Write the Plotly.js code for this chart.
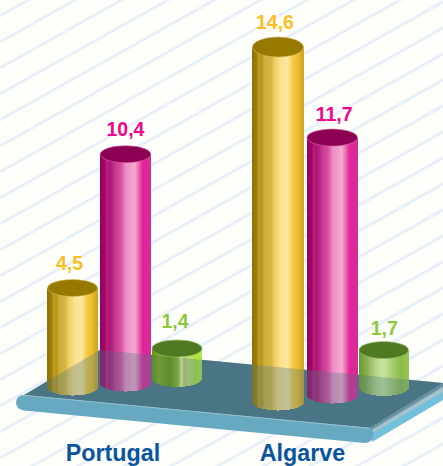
<!DOCTYPE html>
<html><head><meta charset="utf-8">
<script src="https://cdn.plot.ly/plotly-3.0.1.min.js"></script>
<style>html,body{margin:0;padding:0;background:#fefefa;overflow:hidden}#c{width:443px;height:466px}</style>
</head><body><div id="c"></div>
<script>
// ---- data ----
const categories = ['Portugal', 'Algarve'];
const portugal = [4.5, 10.4, 1.4];
const algarve = [14.6, 11.7, 1.7];
const valueLabels = ['4,5', '10,4', '1,4', '14,6', '11,7', '1,7'];

// ---- drawing configuration ----
const W = 443, H = 466, ZERO = 400, UNIT = 22;
const values = portugal.concat(algarve);
const centers = [72.5, 125.5, 177, 278, 332.2, 383.7];
const widths = [50, 50.5, 50, 51, 50.5, 49.5];
const floorPx = [387, 383, 378.5, 402, 395, 387.5];
const stretch = [1, 1, 0.975, 1.105, 1, 1];
const capRy = [8.5, 8.5, 8.5, 10, 8.5, 8.5];
const labelDx = [-3, 0, -2, -3, 2, 0.5];
const labelLift = [16, 16, 18, 16, 14.5, 13];
const RY = 8.5;
const tickCenters = [113, 302.5];
const gold = [[0,'#8e7004'],[.1,'#9f7f0a'],[.12,'#c09c22'],[.2,'#b8961c'],[.24,'#cfae38'],[.36,'#d6b542'],[.44,'#f0d062'],[.55,'#fbe08e'],[.7,'#fde6a0'],[.74,'#f9d970'],[.82,'#f3c63e'],[.9,'#eebd2c'],[1,'#cfa324']];
const magenta = [[0,'#9c005e'],[.1,'#a30567'],[.13,'#b4207c'],[.2,'#ad1475'],[.3,'#c5388f'],[.42,'#d94fa3'],[.52,'#ee8fc2'],[.7,'#f5a9d0'],[.78,'#e864af'],[.85,'#e5249a'],[1,'#d62b99']];
const greenA = [[0,'#669400'],[.15,'#80ab11'],[.35,'#699700'],[.52,'#8ebc27'],[.6,'#ffffb8'],[.63,'#bfd363'],[.75,'#c8dc75'],[.85,'#ade243'],[1,'#b0e546']];
const greenB = [[0,'#6a9a2e'],[.15,'#87ad50'],[.35,'#b8d98a'],[.5,'#c8e4a0'],[.65,'#aed27a'],[.85,'#8ebc4c'],[1,'#93c355']];
const ramps = [gold, magenta, greenA, gold, magenta, greenB];
const capColors = ['#977900', '#8b0052', '#4f7a22', '#977900', '#8b0052', '#4f7a22'];
const capRims = ['#d8bf60', '#d868a8', '#9cc070', '#d8bf60', '#d868a8', '#9cc070'];
const labelColors = ['#fdbf1e', '#f0058c', '#8fc83f', '#fdbf1e', '#f0058c', '#8fc83f'];

const py = p => (ZERO - p) / UNIT;
const hex = c => [1, 3, 5].map(i => parseInt(c.substr(i, 2), 16));
function rampColor(r, t) {
  for (let i = 1; i < r.length; i++) {
    if (t <= r[i][0]) {
      const f = (t - r[i-1][0]) / (r[i][0] - r[i-1][0]);
      const a = hex(r[i-1][1]), b = hex(r[i][1]);
      return 'rgb(' + a.map((v, k) => Math.round(v + (b[k] - v) * f)).join(',') + ')';
    }
  }
  return r[r.length - 1][1];
}
const path = pts => 'M' + pts.map(p => p[0] + ',' + py(p[1])).join(' L') + ' Z';

// background stripes
const shapes = [];
for (let c = 16 - 26; c < H + 260; c += 26) {
  shapes.push({type:'line', layer:'below', xref:'x', yref:'y', x0:0, x1:W,
    y0:py(c), y1:py(c - W * 0.56),
    line:{color:'#e8f1f9', width:3}});
}
// platform
const surface = path([[24,395],[100,350],[443,383],[443,385],[371,428]]);
shapes.push({type:'path', layer:'below', xref:'x', yref:'y', path:surface, fillcolor:'#4a7585', line:{width:0}});
const sideBands = [
  [[[370,428],[443,383],[443,400],[372,442]], '#72c0da'],
  [[[370,428],[443,383],[443,392],[371,434]], '#a5c2cd'],
  [[[370,428],[443,383],[443,387],[370,431]], '#6d96a6']
];
sideBands.forEach(b => shapes.push({type:'path', layer:'below', xref:'x', yref:'y', path:path(b[0]), fillcolor:b[1], line:{width:0}}));
const q = (cx, cy, x, y) => `Q${cx},${py(cy)} ${x},${py(y)}`;
shapes.push({type:'path', layer:'below', xref:'x', yref:'y', fillcolor:'#66a9c0', line:{width:0},
  path:`M24,${py(395)} L370,${py(428)} ${q(375,431,373,436)} ${q(372,443,365,443)} L24,${py(410.5)} ${q(16,409.5,16,402)} ${q(17,395,24,395)} Z`});
shapes.push({type:'line', layer:'below', xref:'x', yref:'y', x0:24, x1:370, y0:py(395.3), y1:py(428.3), line:{color:'#a6cbd8', width:0.7}});
// translucent platform laid over the feet of the cylinders
shapes.push({type:'path', layer:'above', xref:'x', yref:'y', path:surface, fillcolor:'#4a7585', opacity:0.32, line:{width:0}});
// cylinder caps
values.forEach((v, i) => {
  const top = py(floorPx[i]) + v * stretch[i];
  shapes.push({type:'circle', layer:'above', xref:'x', yref:'y',
    x0:centers[i] - widths[i] / 2, x1:centers[i] + widths[i] / 2,
    y0:top - capRy[i] / UNIT, y1:top + capRy[i] / UNIT,
    fillcolor:capColors[i], line:{color:capRims[i], width:0.6}});
});

// cylinders: each one is a run of thin bars across its width
const STRIPS = 50;
const traces = [];
for (let s = 0; s < STRIPS; s++) {
  const t = (s + 0.5) / STRIPS, u = 2 * t - 1;
  const foot = RY * Math.sqrt(1 - u * u) / UNIT;
  const bases = floorPx.map(p => py(p) - foot);
  traces.push({type:'bar', hoverinfo:'skip', showlegend:false,
    x:centers.map((c, i) => c + u * widths[i] / 2),
    width:widths.map(w => w / STRIPS + 0.5),
    base:bases,
    y:values.map((v, i) => v * stretch[i] + foot),
    marker:{color:ramps.map(r => rampColor(r, t)), line:{width:0}}
  });
}
// value labels
traces.push({type:'scatter', mode:'text', hoverinfo:'skip', showlegend:false,
  x:centers.map((c, i) => c + labelDx[i]),
  y:values.map((v, i) => py(floorPx[i]) + v * stretch[i] + (labelLift[i] + 7) / UNIT),
  text:valueLabels, textposition:'middle center', cliponaxis:false,
  textfont:{family:'Liberation Sans', size:19.5, weight:700, color:labelColors}});

Plotly.newPlot('c', traces, {
  width:W, height:H, margin:{l:0, r:0, t:0, b:0, pad:0},
  paper_bgcolor:'#fefefa', plot_bgcolor:'rgba(0,0,0,0)',
  barmode:'overlay', bargap:0, showlegend:false,
  xaxis:{range:[0, W], showgrid:false, zeroline:false, showline:false, ticks:'', fixedrange:true,
    tickmode:'array', tickvals:tickCenters, ticktext:categories, ticklabelposition:'inside', ticklabelstandoff:-3,
    tickfont:{family:'Liberation Sans', size:23.3, weight:700, color:'#0a55a0'}},
  yaxis:{range:[py(H), py(0)], visible:false, fixedrange:true},
  shapes:shapes
}, {displayModeBar:false, staticPlot:true});
</script></body></html>
